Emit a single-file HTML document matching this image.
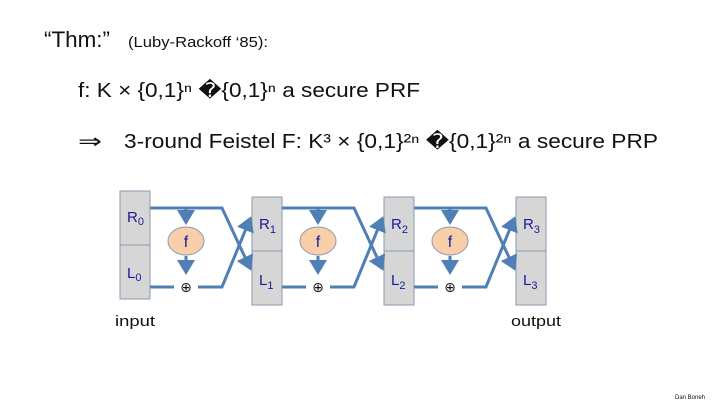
<!DOCTYPE html>
<html><head><meta charset="utf-8"><style>
html,body{margin:0;padding:0;background:#fff;}
svg{display:block;}
</style></head><body>
<svg width="720" height="405" viewBox="0 0 720 405" xmlns="http://www.w3.org/2000/svg" font-family="Liberation Sans, DejaVu Sans, sans-serif">
<defs>
<marker id="a" markerWidth="6" markerHeight="6" refX="4" refY="3" orient="auto" markerUnits="strokeWidth">
<path d="M0,0 L5,3 L0,6 Z" fill="#4f7fb5"/>
</marker>
</defs>
<text x="44" y="47" font-size="22" fill="#111" textLength="66" lengthAdjust="spacingAndGlyphs">“Thm:”</text>
<text x="128" y="47" font-size="15" fill="#111" textLength="140" lengthAdjust="spacingAndGlyphs">(Luby-Rackoff ‘85):</text>
<text x="78" y="97" font-size="20" fill="#111" textLength="342" lengthAdjust="spacingAndGlyphs">f:  K × {0,1}ⁿ  �{0,1}ⁿ   a secure PRF</text>
<text x="78" y="148" font-size="20" fill="#111" textLength="24" lengthAdjust="spacingAndGlyphs">⇒</text>
<text x="124" y="148" font-size="20" fill="#111" textLength="534" lengthAdjust="spacingAndGlyphs">3-round Feistel   F:  K³ × {0,1}²ⁿ  �{0,1}²ⁿ   a secure PRP</text>

<g fill="#d6d6d6" stroke="#8a9ab0" stroke-width="1">
<rect x="120" y="191" width="30" height="54"/><rect x="120" y="245" width="30" height="54"/>
<rect x="252" y="197" width="30" height="54"/><rect x="252" y="251" width="30" height="54"/>
<rect x="384" y="197" width="30" height="54"/><rect x="384" y="251" width="30" height="54"/>
<rect x="516" y="197" width="30" height="54"/><rect x="516" y="251" width="30" height="54"/>
</g>
<g stroke="#4f7fb5" stroke-width="3" fill="none">
<!-- round 1 -->
<polyline points="150,208 222,208 250,268" marker-end="url(#a)"/>
<polyline points="150,287 174,287"/><polyline points="198,287 222,287 250,219" marker-end="url(#a)"/>
<line x1="186" y1="208" x2="186" y2="222" marker-end="url(#a)"/>
<line x1="186" y1="256" x2="186" y2="272" marker-end="url(#a)"/>
<!-- round 2 -->
<polyline points="282,208 354,208 382,268" marker-end="url(#a)"/>
<polyline points="282,287 306,287"/><polyline points="330,287 354,287 382,219" marker-end="url(#a)"/>
<line x1="318" y1="208" x2="318" y2="222" marker-end="url(#a)"/>
<line x1="318" y1="256" x2="318" y2="272" marker-end="url(#a)"/>
<!-- round 3 -->
<polyline points="414,208 486,208 514,268" marker-end="url(#a)"/>
<polyline points="414,287 438,287"/><polyline points="462,287 486,287 514,219" marker-end="url(#a)"/>
<line x1="450" y1="208" x2="450" y2="222" marker-end="url(#a)"/>
<line x1="450" y1="256" x2="450" y2="272" marker-end="url(#a)"/>
</g>
<g fill="#f8cfa8" stroke="#8a9ab0" stroke-width="1">
<ellipse cx="186" cy="241" rx="18" ry="14"/>
<ellipse cx="318" cy="241" rx="18" ry="14"/>
<ellipse cx="450" cy="241" rx="18" ry="14"/>
</g>
<g font-size="16" fill="#1a1a9a" text-anchor="middle">
<text x="186" y="247">f</text><text x="318" y="247">f</text><text x="450" y="247">f</text>
</g>
<g font-size="14" fill="#111" text-anchor="middle">
<text x="186" y="292">⊕</text><text x="318" y="292">⊕</text><text x="450" y="292">⊕</text>
</g>
<g font-size="15" fill="#1a1a9a">
<text x="127" y="222">R<tspan font-size="11" dy="3">0</tspan></text>
<text x="127" y="278">L<tspan font-size="11" dy="3">0</tspan></text>
<text x="259" y="229">R<tspan font-size="11" dy="4">1</tspan></text>
<text x="259" y="285">L<tspan font-size="11" dy="4">1</tspan></text>
<text x="391" y="229">R<tspan font-size="11" dy="4">2</tspan></text>
<text x="391" y="285">L<tspan font-size="11" dy="4">2</tspan></text>
<text x="523" y="229">R<tspan font-size="11" dy="4">3</tspan></text>
<text x="523" y="285">L<tspan font-size="11" dy="4">3</tspan></text>
</g>
<text x="115" y="326" font-size="15" fill="#111" textLength="40" lengthAdjust="spacingAndGlyphs">input</text>
<text x="511" y="326" font-size="15" fill="#111" textLength="50" lengthAdjust="spacingAndGlyphs">output</text>
<text x="675" y="399" font-size="6" fill="#111">Dan Boneh</text>
</svg>
</body></html>
